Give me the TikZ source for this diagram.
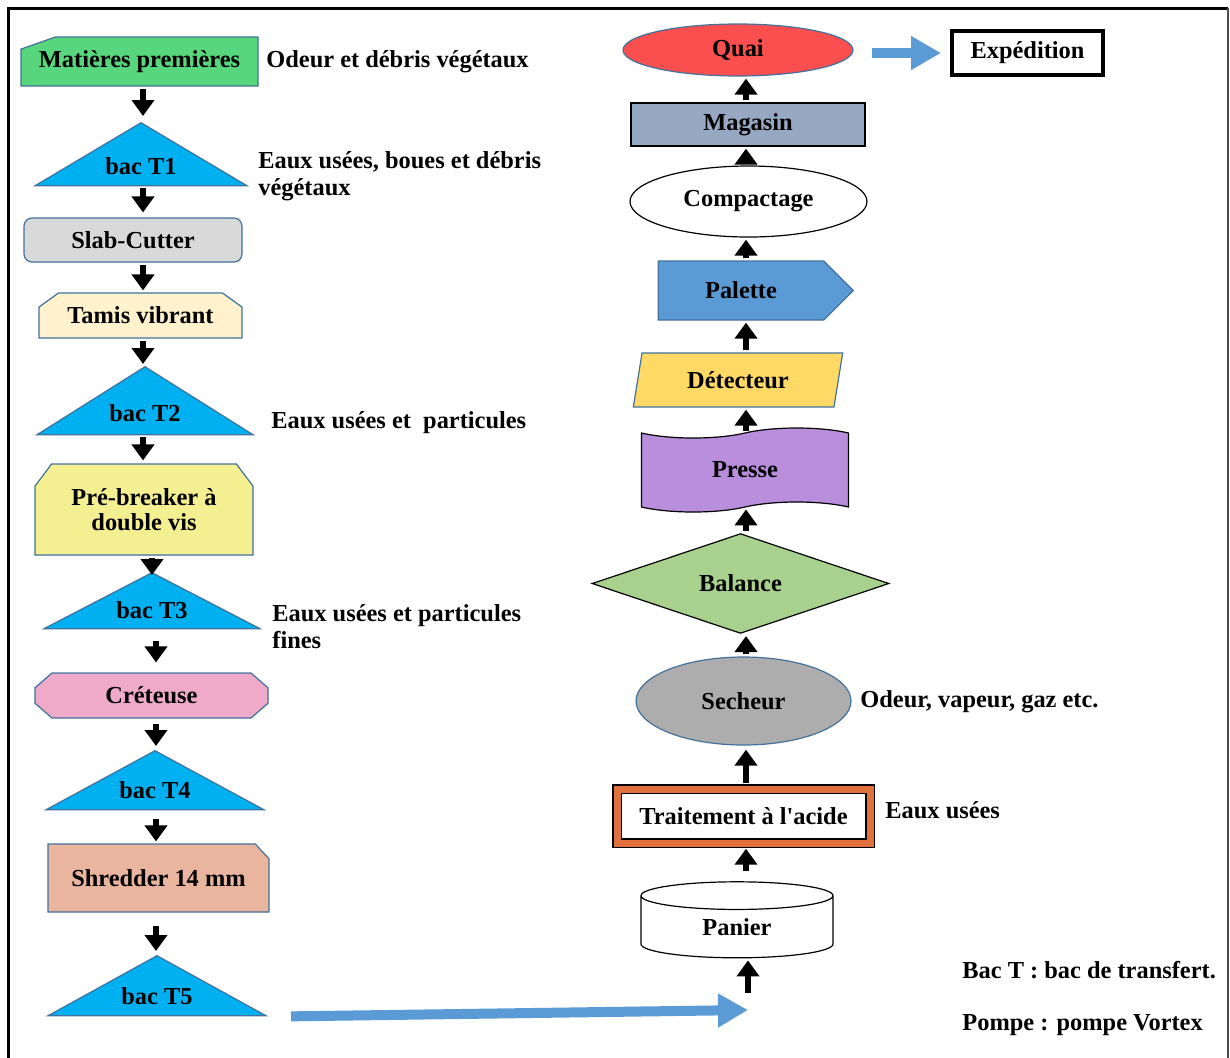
\documentclass[tikz,border=0pt]{standalone}
\usepackage{fontspec}
\setmainfont{Liberation Serif}
\usepackage{tikz}
\usetikzlibrary{positioning,arrows.meta,shapes.geometric,shapes.misc,shapes.symbols,calc}
\definecolor{matgreen}{HTML}{58D67D}
\definecolor{bacblue}{HTML}{00B0F0}
\definecolor{edgeblue}{HTML}{41719C}
\definecolor{slabgray}{HTML}{D9D9D9}
\definecolor{tamisyellow}{HTML}{FFF2CC}
\definecolor{breakyellow}{HTML}{F4F091}
\definecolor{cretpink}{HTML}{EEAAC8}
\definecolor{shredsalmon}{HTML}{EAB59E}
\definecolor{quaired}{HTML}{F94F4F}
\definecolor{magslate}{HTML}{96A8C2}
\definecolor{palblue}{HTML}{5B9BD5}
\definecolor{detyellow}{HTML}{FFD966}
\definecolor{pressviolet}{HTML}{B98EDC}
\definecolor{balgreen}{HTML}{A9D18E}
\definecolor{secgray}{HTML}{ADADAD}
\definecolor{acidorange}{HTML}{E0703E}

\begin{document}
\begin{tikzpicture}[x=0.5pt, y=-0.5pt,
    stage/.style={draw=edgeblue, line width=0.6pt, inner sep=0pt, align=center,
                  font=\bfseries\fontsize{12.2}{12.5}\selectfont},
    bac/.style={stage, isosceles triangle, shape border rotate=90, fill=bacblue,
                anchor=apex},
    remark/.style={inner sep=0pt, anchor=west, align=left,
                   font=\bfseries\fontsize{12.2}{13.5}\selectfont},
    flow/.style={-{Triangle[width=11pt,length=8pt]}, line width=3pt,
                 shorten <=1pt, shorten >=1pt},
    bigflow/.style={-{Triangle[width=16pt,length=15pt]}, line width=5pt, palblue},
]
\useasboundingbox (0,0) rectangle (1230,1057);
% frame
\draw[line width=1.5pt] (8,1070) -- (8,8) -- (1228,8);
\draw[line width=0.6pt, black!70] (1228,8) -- (1228,1070);

% left column
\node[stage, chamfered rectangle, chamfered rectangle corners=north west,
      chamfered rectangle angle=70.6, chamfered rectangle xsep=8.5pt, fill=matgreen,
      minimum width=118.5pt, minimum height=24.5pt] (mp) at (139.5,61.5) {Matières premières};
\node[bac, isosceles triangle apex angle=118.5, minimum width=106pt] (t1) at (141,122) {bac T1};
\node[stage, rounded corners=4pt, fill=slabgray, minimum width=109pt,
      minimum height=22pt] (sc) at (133,240) {Slab-Cutter};
\node[stage, chamfered rectangle, chamfered rectangle corners={north west,north east},
      chamfered rectangle angle=54, chamfered rectangle xsep=5.5pt, fill=tamisyellow,
      minimum width=101.5pt, minimum height=22.5pt] (tv) at (140.5,315.5) {Tamis vibrant};
\node[bac, isosceles triangle apex angle=115.6, minimum width=108pt] (t2) at (145,366) {bac T2};
\node[stage, chamfered rectangle, chamfered rectangle corners={north west,north east},
      chamfered rectangle angle=37, chamfered rectangle xsep=6pt, fill=breakyellow,
      minimum width=109pt, minimum height=45.5pt] (pb) at (144,509.5) {Pré-breaker à\\double vis};
\node[bac, isosceles triangle apex angle=125.2, minimum width=108pt] (t3) at (152,572) {bac T3};
\node[stage, chamfered rectangle, chamfered rectangle angle=49, chamfered rectangle xsep=7pt,
      fill=cretpink, minimum width=116.5pt, minimum height=22.5pt] (cr) at (151.5,695.5) {Créteuse};
\node[bac, isosceles triangle apex angle=123.1, minimum width=109pt] (t4) at (155,750) {bac T4};
\node[stage, chamfered rectangle, chamfered rectangle corners=north east,
      chamfered rectangle angle=43, chamfered rectangle xsep=6pt, fill=shredsalmon,
      minimum width=110.5pt, minimum height=34pt] (sh) at (158.5,878) {Shredder 14 mm};
\node[bac, isosceles triangle apex angle=122.3, minimum width=109pt] (t5) at (157,955) {bac T5};

% right column
\node[stage, ellipse, fill=quaired, minimum width=115pt, minimum height=26pt] (quai) at (738,50) {Quai};
\node[stage, draw=black, fill=magslate, minimum width=117pt, minimum height=21.5pt] (mag) at (748,124.5) {Magasin};
\node[stage, ellipse, draw=black, fill=white, minimum width=118.5pt, minimum height=35.5pt] (com) at (748.5,201.5) {Compactage};
\node[stage, signal, signal to=east, signal pointer angle=90, fill=palblue,
      minimum width=97.5pt, minimum height=29.5pt] (pal) at (741,290.5) {Palette};
\node[stage, trapezium, trapezium left angle=75, trapezium right angle=105,
      trapezium stretches=true, fill=detyellow,
      minimum width=105pt, minimum height=27pt] (det) at (738,380) {Détecteur};
\node[stage, tape, tape bend top=in and out, tape bend bottom=in and out, draw=black,
      fill=pressviolet, minimum width=103.5pt, minimum height=42pt] (pre) at (745,470) {Presse};
\node[stage, diamond, draw=black, fill=balgreen, minimum width=148.5pt,
      minimum height=43.5pt] (bal) at (740.5,583.5) {Balance};
\node[stage, ellipse, fill=secgray, minimum width=107.5pt, minimum height=44pt] (sec) at (743.5,701) {Secheur};
\node[stage, draw=black, double=acidorange, double distance=3.5pt, line width=0.7pt, fill=white,
      minimum width=126.5pt, minimum height=27pt] (tr) at (743.5,816) {Traitement à l\textquotesingle acide};
\node[stage, cylinder, shape border rotate=90, aspect=0.4, draw=black, fill=white,
      minimum width=96pt, minimum height=38pt] (pan) at (737,927) {Panier};
\node[stage, draw=black, line width=2pt, fill=white, minimum width=75.5pt,
      minimum height=22pt] (exp) at (1027.5,53) {Expédition};

% remarks
\node[remark] (r1) at (266,62) {Odeur et débris végétaux};
\node[remark] (r2) at (258,176.5) {Eaux usées, boues et débris\\végétaux};
\node[remark] (r3) at (271,423) {Eaux usées et\ \ particules};
\node[remark] (r4) at (272,626.5) {Eaux usées et particules\\fines};
\node[remark] (r5) at (860,702) {Odeur, vapeur, gaz etc.};
\node[remark] (r6) at (885,810) {Eaux usées};
\node[remark] (n1) at (962,970) {Bac T : bac de transfert.};
\node[remark] (n2) at (962,1025) {Pompe : pompe Vortex};

% connectors
\coordinate (lc) at (143,0);
\coordinate (lc2) at (156,0);
\coordinate (rc) at (746,0);
\coordinate (feed) at (748,1010);
\draw[flow, shorten >=3pt] (mp.south -| lc) -- (t1.90 -| lc);
\draw[flow, shorten >=2.5pt] (t1.270 -| lc) -- (sc.north -| lc);
\draw[flow] (sc.south -| lc) -- (tv.north -| lc);
\draw[flow] (tv.south -| lc) -- (t2.90 -| lc);
\draw[flow, shorten >=1.5pt] (t2.270 -| lc) -- (pb.north -| lc);
\draw[flow, shorten >=-1.5pt] (pb.south -| t3.90) -- (t3.90);
\draw[flow, shorten <=6pt, shorten >=5pt] (t3.270 -| lc2) -- (cr.north -| lc2);
\draw[flow, shorten <=2.5pt, shorten >=2pt] (cr.south -| lc2) -- (t4.90 -| lc2);
\draw[flow, shorten <=4.5pt] (t4.270 -| lc2) -- (sh.north -| lc2);
\draw[flow, shorten <=6.5pt, shorten >=2pt] (sh.south -| lc2) -- (t5.90 -| lc2);
\draw[bigflow] ([xshift=67pt]t5.270) -- (feed);
\draw[flow] ([yshift=7.5pt]feed) -- (feed |- pan.270);
\draw[flow, shorten <=5pt, shorten >=2.5pt] (pan.90 -| rc) -- (tr.south -| rc);
\draw[flow, shorten <=2.5pt, shorten >=2pt] (tr.north -| rc) -- (sec.south -| rc);
\draw[flow] (sec.north -| rc) -- (bal.south -| rc);
\draw[flow] (bal.north -| rc) -- (pre.south -| rc);
\draw[flow] (pre.north -| rc) -- (det.south -| rc);
\draw[flow] (det.north -| rc) -- (pal.south -| rc);
\draw[flow] (pal.north -| rc) -- (com.south -| rc);
\draw[flow] (com.north -| rc) -- (mag.south -| rc);
\draw[flow] (mag.north -| rc) -- (quai.south -| rc);
\draw[bigflow] ([xshift=9pt]quai.east |- exp.west) -- ([xshift=-4.5pt]exp.west);
\end{tikzpicture}
\end{document}
